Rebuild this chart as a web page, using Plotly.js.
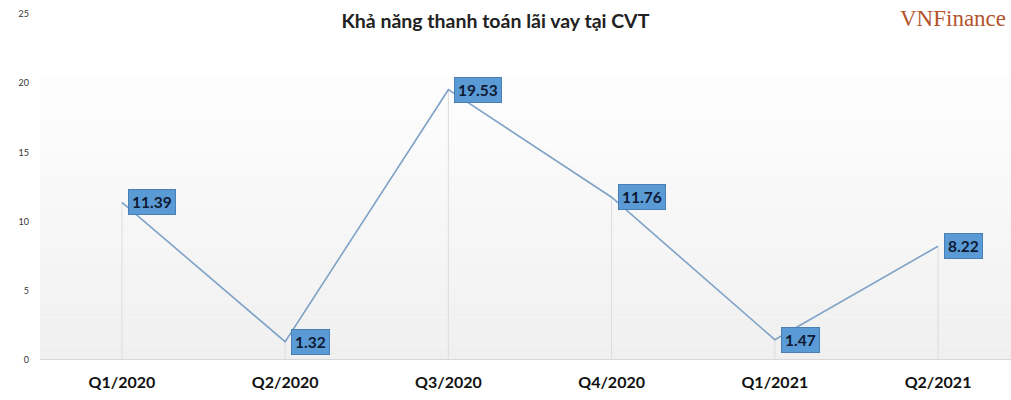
<!DOCTYPE html>
<html><head><meta charset="utf-8">
<script src="https://cdn.plot.ly/plotly-3.0.1.min.js"></script>
<style>html,body{margin:0;padding:0;background:#fff}#chart{width:1011px;height:400px}</style>
</head><body><div id="chart"></div>
<script>
const categories = ["Q1/2020","Q2/2020","Q3/2020","Q4/2020","Q1/2021","Q2/2021"];
const values = [11.39, 1.32, 19.53, 11.76, 1.47, 8.22];
const yTicks = [0,5,10,15,20,25];

const idx = categories.map((c,i)=>i);
const shapes = [];
// background gradient bands
const bands = 20;
for (let b=0;b<bands;b++){
  const y0 = 20.5*b/bands, y1 = 20.5*(b+1)/bands;
  const g = Math.round(240 + 14*b/bands);
  shapes.push({type:'rect',xref:'paper',yref:'y',x0:0,x1:1,y0:y0,y1:y1,
    fillcolor:`rgb(${g},${g},${g})`,line:{width:0},layer:'below'});
}
// baseline
shapes.push({type:'line',xref:'paper',yref:'y',x0:0,x1:1,y0:0,y1:0,line:{color:'#d0d0d0',width:1.5},layer:'below'});
// drop lines
idx.forEach(i=>{
  shapes.push({type:'line',xref:'x',yref:'y',x0:i,x1:i,y0:0,y1:values[i],line:{color:'#dcdcdc',width:1},layer:'below'});
});

const annotations = idx.map(i=>({
  x:i, y:values[i], xref:'x', yref:'y', text:'<b>'+values[i].toFixed(2)+'</b>',
  showarrow:false, xanchor:'left', yanchor:'middle', xshift:6,
  bgcolor:'#5b9bd5', bordercolor:'#4a7fb5', borderwidth:1, borderpad:3,
  font:{family:'Lato, "Open Sans", sans-serif', size:15.5, color:'#0f1a33'}
}));
annotations.push({xref:'paper',yref:'paper',x:1,y:1,yshift:-4,xanchor:'right',yanchor:'middle',xshift:-3,
  text:'VNFinance',showarrow:false,font:{family:'"Liberation Serif","DejaVu Serif",serif',size:23,color:'#b4552d'}});

const trace = {
  x: idx, y: values, type:'scatter', mode:'lines',
  line:{color:'#7fa3c6', width:1.6}, hoverinfo:'none'
};

const layout = {
  width:1011, height:400,
  margin:{l:40,r:0,t:14,b:40},
  paper_bgcolor:'#ffffff', plot_bgcolor:'#ffffff',
  title:{text:'<b>Khả năng thanh toán lãi vay tại CVT</b>', x:0.49, xanchor:'center', y:0.948, yanchor:'middle',
    font:{family:'Lato, "Open Sans", sans-serif', size:19.5, color:'#222'}},
  xaxis:{range:[-0.502,5.447], tickvals:idx, ticktext:categories, showgrid:false, zeroline:false, showline:false,
    ticks:'', ticklabelstandoff:11, tickfont:{family:'Lato, "Open Sans", sans-serif', size:16, color:'#111', weight:'bold'}},
  yaxis:{range:[0,25], tickvals:yTicks, ticktext:yTicks.map(String), showgrid:false, zeroline:false, showline:false,
    ticks:'', ticklabelstandoff:10, tickfont:{family:'Lato, "Open Sans", sans-serif', size:9, color:'#333'}},
  shapes:shapes, annotations:annotations, showlegend:false
};
Plotly.newPlot('chart',[trace],layout,{displayModeBar:false,staticPlot:true});
</script></body></html>
